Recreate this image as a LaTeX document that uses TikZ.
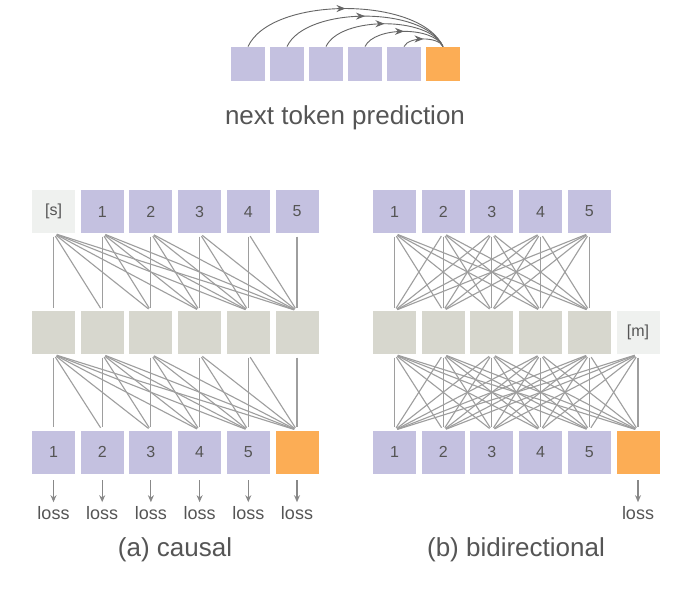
\documentclass[tikz,border=0pt]{standalone}
\usepackage{fontspec}
\setmainfont{Liberation Sans}
\usetikzlibrary{arrows.meta,decorations.markings}
\definecolor{tokpurple}{HTML}{C4C1E0}
\definecolor{tokgray}{HTML}{D7D7CE}
\definecolor{toklight}{HTML}{EFF1EF}
\definecolor{tokorange}{HTML}{FCAD55}
\definecolor{txtgray}{HTML}{555555}
\definecolor{linegray}{HTML}{9E9E9E}
\definecolor{arcgray}{HTML}{666666}
\definecolor{lossgray}{HTML}{888888}
\begin{document}
\begin{tikzpicture}[x=1pt,y=-1pt,
  tok/.style={minimum size=43pt, inner sep=0pt, text=txtgray, font=\fontsize{16}{19}\selectfont},
  ptok/.style={tok, fill=tokpurple},
  gtok/.style={tok, fill=tokgray},
  ltok/.style={tok, fill=toklight},
  otok/.style={tok, fill=tokorange},
  stok/.style={minimum size=34.5pt, inner sep=0pt},
  link/.style={draw=linegray, line width=1.1pt, shorten <=3.5pt, shorten >=3pt},
  lossarrow/.style={draw=lossgray, line width=1.1pt, shorten <=6.5pt, shorten >=3pt, -{Stealth[length=7pt,width=6pt]}},
  losstext/.style={text=txtgray, inner sep=1pt, font=\fontsize{18}{21}\selectfont},
  captiontext/.style={text=txtgray, inner sep=0pt, font=\fontsize{26}{30}\selectfont},
  predarc/.style={draw=arcgray, line width=0.9pt, postaction={decorate},
    decoration={markings, mark=at position 0.5 with {\arrow{Stealth[length=9pt,width=7pt]}}}}
]
\useasboundingbox (0,0) rectangle (677,600);
\fill[white] (0,0) rectangle (677,600);

% ---- top: next token prediction ----
\foreach \i in {1,...,5}
  \node[stok, fill=tokpurple] (T\i) at ({248+39*(\i-1)},64) {};
\node[stok, fill=tokorange] (T6) at (443,64) {};
\foreach \i/\L in {1/195,2/156,3/117,4/78,5/39}
  \draw[predarc] (T\i.north) .. controls +({0.12*\L},{-0.26*\L}) and +({-0.12*\L},{-0.26*\L}) .. (T6.north);
\node[captiontext] (title) at (345,118) {next token prediction};

% ---- (a) causal ----
\foreach \i/\t/\s in {0/{[s]}/ltok,1/1/ptok,2/2/ptok,3/3/ptok,4/4/ptok,5/5/ptok}
  \node[\s] (La\i) at ({53.5+48.7*\i},211.5) {\t};
\foreach \i in {0,...,5}
  \node[gtok] (Lm\i) at ({53.5+48.7*\i},332.5) {};
\foreach \i/\t/\s in {0/1/ptok,1/2/ptok,2/3/ptok,3/4/ptok,4/5/ptok,5/{}/otok}
  \node[\s] (Lb\i) at ({53.5+48.7*\i},452) {\t};
\foreach \i in {0,...,5}{
  \foreach \j in {\i,...,5}{
    \draw[link] (La\i.south) -- (Lm\j.north);
    \draw[link] (Lm\i.south) -- (Lb\j.north);
  }
}
\foreach \i in {0,...,5}{
  \node[losstext] (Ll\i) at ({53.5+48.7*\i},513) {loss};
  \draw[lossarrow] (Lb\i.south) -- (Ll\i.north);
}
\node[captiontext] (capa) at (175,550) {(a) causal};

% ---- (b) bidirectional ----
\foreach \i in {1,...,5}
  \node[ptok] (Ra\i) at ({394.5+48.7*(\i-1)},211.5) {\i};
\foreach \i in {1,...,5}
  \node[gtok] (Rm\i) at ({394.5+48.7*(\i-1)},332.5) {};
\node[ltok] (Rm6) at ({394.5+48.7*5},332.5) {[m]};
\foreach \i in {1,...,5}
  \node[ptok] (Rb\i) at ({394.5+48.7*(\i-1)},452) {\i};
\node[otok] (Rb6) at ({394.5+48.7*5},452) {};
\foreach \i in {1,...,5}
  \foreach \j in {1,...,5}
    \draw[link] (Ra\i.south) -- (Rm\j.north);
\foreach \i in {1,...,6}
  \foreach \j in {1,...,6}
    \draw[link] (Rm\i.south) -- (Rb\j.north);
\node[losstext] (Rl6) at ({394.5+48.7*5},513) {loss};
\draw[lossarrow] (Rb6.south) -- (Rl6.north);
\node[captiontext] (capb) at (516,550) {(b) bidirectional};
\end{tikzpicture}
\end{document}
